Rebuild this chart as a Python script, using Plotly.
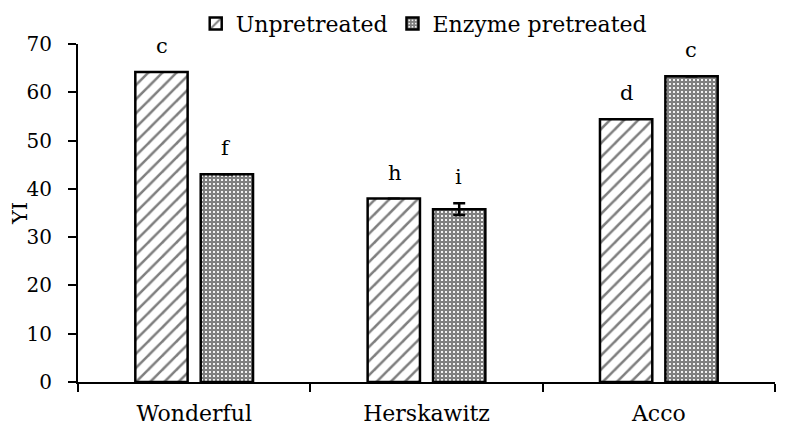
import plotly.graph_objects as go

cultivars = ["Wonderful", "Herskawitz", "Acco"]
unpretreated = [64.2, 38.0, 54.4]
unpretreated_err = [0.0, 0.0, 0.0]
enzyme = [43.0, 35.8, 63.3]
enzyme_err = [0.0, 1.2, 0.0]
letters_unpre = ["c", "h", "d"]
letters_enzyme = ["f", "i", "c"]

font = "DejaVu Serif"

fig = go.Figure()
fig.add_trace(go.Bar(
    x=cultivars, y=unpretreated, name="Unpretreated",
    marker=dict(color="white", line=dict(color="black", width=2.5),
                pattern=dict(shape="/", fgcolor="black", bgcolor="white",
                             size=10, solidity=0.25)),
    error_y=dict(type="data", array=unpretreated_err, color="black",
                 thickness=2, width=6),
))
fig.add_trace(go.Bar(
    x=cultivars, y=enzyme, name="Enzyme pretreated",
    marker=dict(color="white", line=dict(color="black", width=2.5),
                pattern=dict(shape="+", fgcolor="black", bgcolor="white",
                             size=4, solidity=0.8)),
    error_y=dict(type="data", array=enzyme_err, color="black",
                 thickness=2.5, width=6),
))

for vals, errs, labs, shift in [(unpretreated, unpretreated_err, letters_unpre, -32),
                                (enzyme, enzyme_err, letters_enzyme, 32)]:
    for c, v, e, t in zip(cultivars, vals, errs, labs):
        fig.add_annotation(x=c, y=v + e, text=t, showarrow=False,
                           xshift=shift, yshift=12, yanchor="bottom",
                           font=dict(family=font, size=21, color="black"))

fig.update_layout(
    width=787, height=437,
    margin=dict(l=70, r=20, t=36, b=63, autoexpand=False),
    paper_bgcolor="white", plot_bgcolor="white",
    font=dict(family=font, size=21, color="black"),
    barmode="group", bargap=0.437, bargroupgap=0.2,
    showlegend=True,
    legend=dict(orientation="h", x=0.496, xanchor="center", y=1.122, yanchor="top",
                font=dict(size=22), itemwidth=30,
                traceorder="normal", tracegroupgap=0),
    xaxis=dict(showline=True, linecolor="black", linewidth=2, ticks="outside",
               tickson="boundaries", ticklen=8, tickwidth=2, tickcolor="black",
               showgrid=False, tickfont=dict(size=22), ticklabelstandoff=11),
    yaxis=dict(range=[0, 70], dtick=10, showline=True, linecolor="black",
               linewidth=2, ticks="outside", ticklen=8, tickwidth=2,
               tickcolor="black", showgrid=False, zeroline=False,
               ticklabelstandoff=12,
               title=dict(text="YI", standoff=8, font=dict(size=21)),
               tickfont=dict(size=20)),
)

fig.write_html("out.html")
